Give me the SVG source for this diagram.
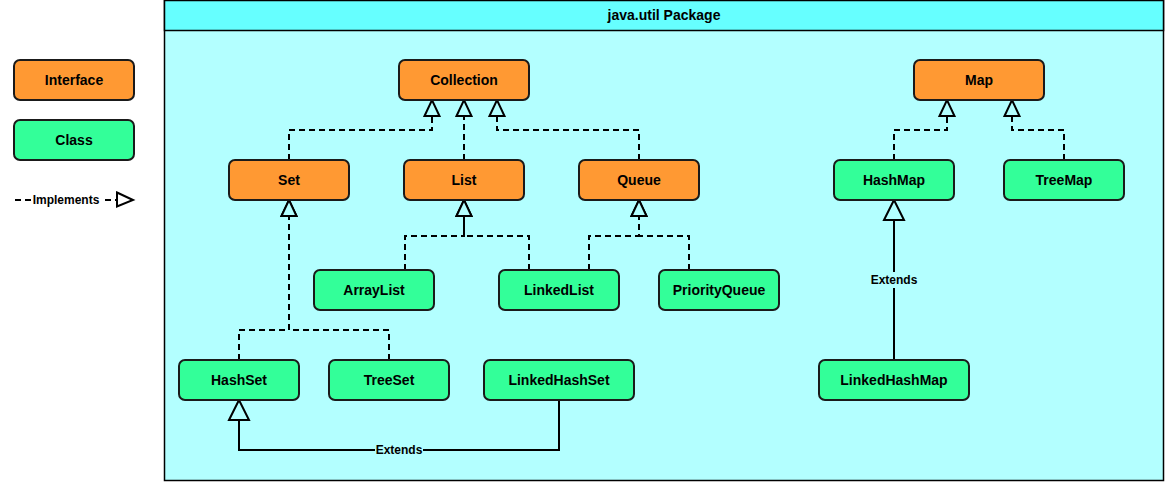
<svg xmlns="http://www.w3.org/2000/svg" width="1165" height="482" viewBox="0 0 1165 482">
<style>
text{font-family:"Liberation Sans",Arial,Helvetica,sans-serif;font-weight:bold;fill:#000;text-anchor:middle}
.n{font-size:14px}
.lbl{font-size:12px}
.iface{fill:#FF9933;stroke:#1a1a1a;stroke-width:2}
.cls{fill:#33FF99;stroke:#1a1a1a;stroke-width:2}
.impl{fill:none;stroke:#000;stroke-width:2;stroke-dasharray:6 4;marker-end:url(#implArrow)}
.ext{fill:none;stroke:#000;stroke-width:2;marker-end:url(#extArrow)}
</style>
<defs>
<marker id="implArrow" markerUnits="userSpaceOnUse" viewBox="-2 -2 20 19" markerWidth="20" markerHeight="19" refX="16" refY="7.5" orient="auto" overflow="visible">
<path d="M0,0 L16,7.5 L0,15 Z" fill="#B3FFFF" stroke="#000" stroke-width="2"/>
</marker>
<marker id="implArrowW" markerUnits="userSpaceOnUse" viewBox="-2 -2 20 19" markerWidth="20" markerHeight="19" refX="16" refY="7.5" orient="auto" overflow="visible">
<path d="M0,0 L16,7.5 L0,14 Z" fill="#FFFFFF" stroke="#000" stroke-width="2"/>
</marker>
<marker id="extArrow" markerUnits="userSpaceOnUse" viewBox="-2 -2 24 24" markerWidth="24" markerHeight="24" refX="20" refY="10" orient="auto" overflow="visible">
<path d="M0,0 L20,10 L0,20 Z" fill="#B3FFFF" stroke="#000" stroke-width="2"/>
</marker>
</defs>
<rect width="1165" height="482" fill="#FFFFFF"/>

<g id="package">
<rect x="164.5" y="0.5" width="999" height="480" fill="#B3FFFF" stroke="#000" stroke-width="1.5"/>
<rect x="164.5" y="0.5" width="999" height="30" fill="#66FFFF" stroke="#000" stroke-width="1.5"/>
<text class="n" x="664" y="20">java.util Package</text>
</g>

<g id="legend">
<g id="legend-interface"><rect class="iface" x="14" y="60" width="120" height="40" rx="6"/><text class="n" x="74" y="85">Interface</text></g>
<g id="legend-class"><rect class="cls" x="14" y="120" width="120" height="40" rx="6"/><text class="n" x="74" y="145">Class</text></g>
<g id="legend-implements">
<path d="M15,200 H133" fill="none" stroke="#000" stroke-width="2" stroke-dasharray="6 4" marker-end="url(#implArrowW)"/>
<rect x="31" y="192" width="70" height="16" fill="#FFFFFF"/>
<text class="lbl" x="66" y="204">Implements</text>
</g>
</g>

<g id="connectors">
<path class="impl" d="M289,160 V130 H432 V100"/>
<path class="impl" d="M464,160 V100"/>
<path class="impl" d="M639,160 V130 H497 V100"/>
<path class="impl" d="M405,270 V236 H464 V200"/>
<path class="impl" d="M529,270 V236 H464 V200"/>
<path class="impl" d="M589,270 V236 H639 V200"/>
<path class="impl" d="M689,270 V236 H639 V200"/>
<path class="impl" d="M239,360 V330 H289 V200"/>
<path class="impl" d="M389,360 V330 H289 V200"/>
<path class="ext" d="M559,400 V450 H239 V400"/>
<rect x="375" y="442" width="48" height="16" fill="#B3FFFF"/>
<text class="lbl" x="399" y="454">Extends</text>
<path class="impl" d="M894,160 V130 H947 V100"/>
<path class="impl" d="M1064,160 V130 H1012 V100"/>
<path class="ext" d="M894,360 V200"/>
<rect x="870" y="272" width="48" height="16" fill="#B3FFFF"/>
<text class="lbl" x="894" y="284">Extends</text>
</g>

<g id="Collection"><rect class="iface" x="399" y="60" width="130" height="40" rx="6"/><text class="n" x="464" y="85">Collection</text></g>
<g id="Map"><rect class="iface" x="914" y="60" width="130" height="40" rx="6"/><text class="n" x="979" y="85">Map</text></g>
<g id="Set"><rect class="iface" x="229" y="160" width="120" height="40" rx="6"/><text class="n" x="289" y="185">Set</text></g>
<g id="List"><rect class="iface" x="404" y="160" width="120" height="40" rx="6"/><text class="n" x="464" y="185">List</text></g>
<g id="Queue"><rect class="iface" x="579" y="160" width="120" height="40" rx="6"/><text class="n" x="639" y="185">Queue</text></g>
<g id="HashMap"><rect class="cls" x="834" y="160" width="120" height="40" rx="6"/><text class="n" x="894" y="185">HashMap</text></g>
<g id="TreeMap"><rect class="cls" x="1004" y="160" width="120" height="40" rx="6"/><text class="n" x="1064" y="185">TreeMap</text></g>
<g id="ArrayList"><rect class="cls" x="314" y="270" width="120" height="40" rx="6"/><text class="n" x="374" y="295">ArrayList</text></g>
<g id="LinkedList"><rect class="cls" x="499" y="270" width="120" height="40" rx="6"/><text class="n" x="559" y="295">LinkedList</text></g>
<g id="PriorityQueue"><rect class="cls" x="659" y="270" width="120" height="40" rx="6"/><text class="n" x="719" y="295">PriorityQueue</text></g>
<g id="HashSet"><rect class="cls" x="179" y="360" width="120" height="40" rx="6"/><text class="n" x="239" y="385">HashSet</text></g>
<g id="TreeSet"><rect class="cls" x="329" y="360" width="120" height="40" rx="6"/><text class="n" x="389" y="385">TreeSet</text></g>
<g id="LinkedHashSet"><rect class="cls" x="484" y="360" width="150" height="40" rx="6"/><text class="n" x="559" y="385">LinkedHashSet</text></g>
<g id="LinkedHashMap"><rect class="cls" x="819" y="360" width="150" height="40" rx="6"/><text class="n" x="894" y="385">LinkedHashMap</text></g>
</svg>
